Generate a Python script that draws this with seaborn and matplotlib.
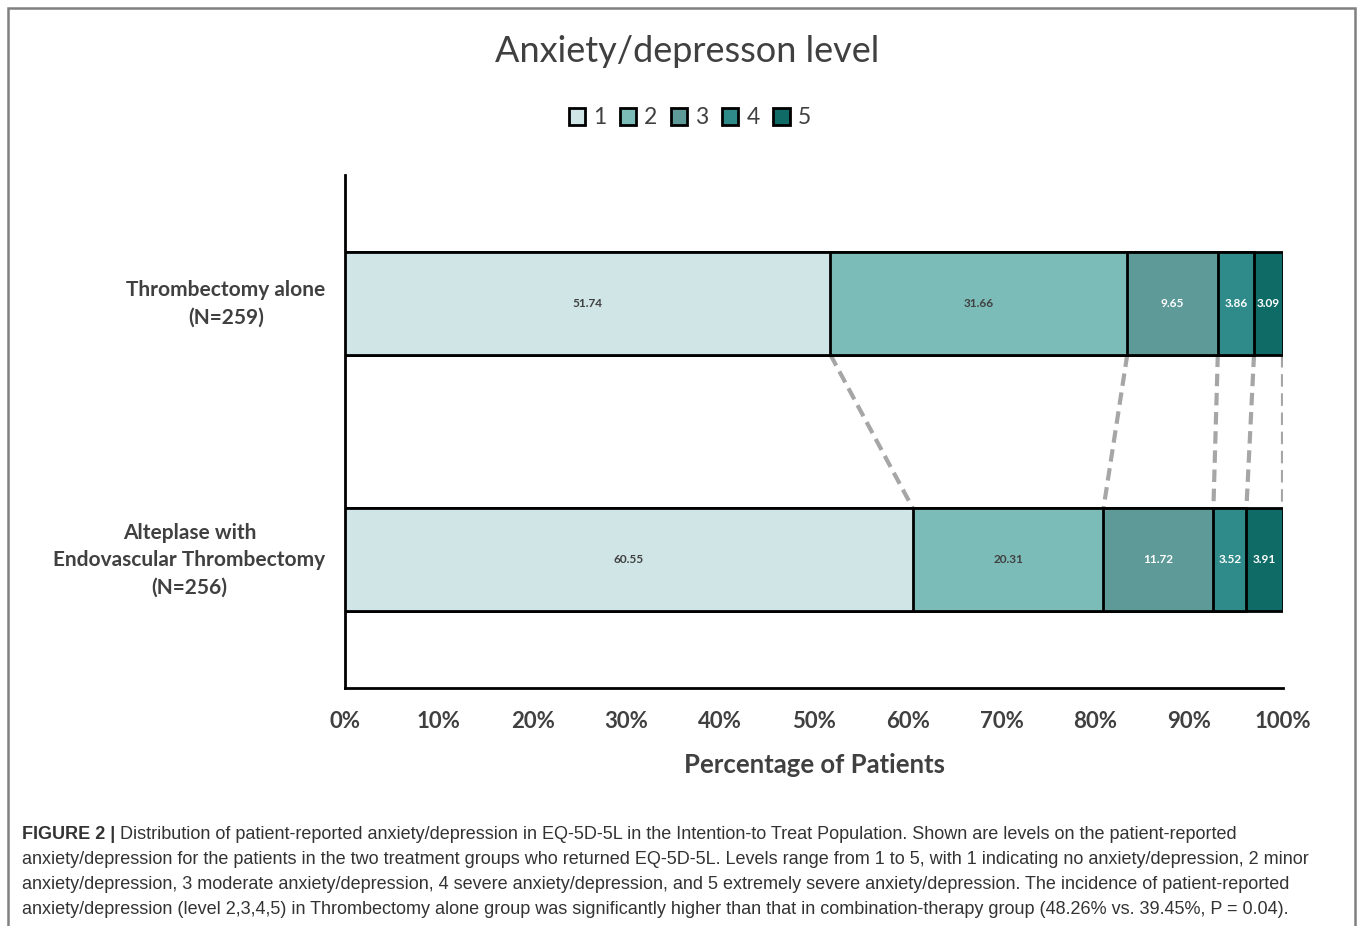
"""Stacked bar chart of patient-reported anxiety/depression levels (EQ-5D-5L)."""

from __future__ import annotations

import matplotlib

matplotlib.use("Agg")

import matplotlib.pyplot as plt
from matplotlib.patches import Patch, Rectangle
from matplotlib.transforms import ScaledTranslation
import pandas as pd
import seaborn as sns

FIG_W_PX = 1358
FIG_H_PX = 926
DPI = 100

GROUPS = [
    "Thrombectomy alone\n(N=259)",
    "Alteplase with\nEndovascular Thrombectomy\n(N=256)",
]
LEVELS = ["1", "2", "3", "4", "5"]
THROMBECTOMY_ALONE = [51.74, 31.66, 9.65, 3.86, 3.09]
ALTEPLASE_WITH_EVT = [60.55, 20.31, 11.72, 3.52, 3.91]
X_TICKS = [0, 10, 20, 30, 40, 50, 60, 70, 80, 90, 100]

LEVEL_COLORS = ["#cfe5e6", "#7bbcb9", "#5e9a98", "#2f8b89", "#0e6b65"]
LABEL_COLORS = ["#404040", "#404040", "white", "white", "white"]
TEXT_GREY = "#404040"
CAPTION_GREY = "#333333"

CAPTION_LINES = [
    "Distribution of patient-reported anxiety/depression in EQ-5D-5L in the "
    "Intention-to Treat Population. Shown are levels on the patient-reported",
    "anxiety/depression for the patients in the two treatment groups who returned "
    "EQ-5D-5L. Levels range from 1 to 5, with 1 indicating no anxiety/depression, 2 minor",
    "anxiety/depression, 3 moderate anxiety/depression, 4 severe anxiety/depression, "
    "and 5 extremely severe anxiety/depression. The incidence of patient-reported",
    "anxiety/depression (level 2,3,4,5) in Thrombectomy alone group was significantly "
    "higher than that in combination-therapy group (48.26% vs. 39.45%, P = 0.04).",
]


def px_x(value: float) -> float:
    return value / FIG_W_PX


def px_y(value: float) -> float:
    return 1 - value / FIG_H_PX


def build_dataframe() -> pd.DataFrame:
    """Long table with cumulative percentages per group."""
    rows = []
    for group, values in zip(GROUPS, [THROMBECTOMY_ALONE, ALTEPLASE_WITH_EVT]):
        total = 0.0
        for level, value in zip(LEVELS, values):
            start = total
            total += value
            rows.append(
                {
                    "group": group,
                    "level": level,
                    "value": value,
                    "start": start,
                    "cumulative": min(total, 100.0),
                }
            )
    return pd.DataFrame(rows)


def plot_bars(axes: plt.Axes, data: pd.DataFrame) -> None:
    """Draw stacked bars by overlaying cumulative totals, widest first."""
    for level, color in reversed(list(zip(LEVELS, LEVEL_COLORS))):
        subset = data[data["level"] == level]
        sns.barplot(
            data=subset,
            x="cumulative",
            y="group",
            order=GROUPS,
            orient="h",
            color=color,
            width=0.4,
            edgecolor="black",
            linewidth=2,
            saturation=1,
            ax=axes,
            zorder=3,
        )

    for _, row in data.iterrows():
        level_idx = LEVELS.index(row["level"])
        axes.text(
            row["start"] + row["value"] / 2,
            GROUPS.index(row["group"]),
            f"{row['value']:.2f}",
            ha="center",
            va="center",
            fontsize=8.5,
            fontweight="bold",
            color=LABEL_COLORS[level_idx],
            zorder=5,
        )


def plot_connectors(axes: plt.Axes, data: pd.DataFrame) -> None:
    """Dashed lines joining matching level boundaries of both bars."""
    top = data[data["group"] == GROUPS[0]]["cumulative"].tolist()
    bottom = data[data["group"] == GROUPS[1]]["cumulative"].tolist()
    for x_top, x_bottom in zip(top, bottom):
        axes.plot(
            [x_top, x_bottom],
            [0.2, 0.8],
            color="#a6a6a6",
            linewidth=3,
            linestyle=(0, (3, 1.6)),
            zorder=1,
        )


def style_axes(figure: plt.Figure, axes: plt.Axes) -> None:
    axes.set_xlim(0, 100)
    axes.set_ylim(1.5, -0.5)
    axes.set_xticks(X_TICKS)
    axes.set_xticklabels([f"{tick}%" for tick in X_TICKS])
    axes.set_ylabel("")
    axes.set_xlabel(
        "Percentage of Patients",
        fontsize=18.5,
        fontweight="bold",
        color=TEXT_GREY,
        labelpad=15,
    )
    for side in ("top", "right"):
        axes.spines[side].set_visible(False)
    for side in ("left", "bottom"):
        axes.spines[side].set_color("black")
        axes.spines[side].set_linewidth(2)
    axes.tick_params(
        axis="x",
        direction="out",
        length=4.5,
        width=2,
        color="black",
        pad=12,
        labelsize=16,
        labelcolor=TEXT_GREY,
    )
    axes.tick_params(axis="y", length=0, pad=14, labelsize=15, labelcolor=TEXT_GREY)
    for label in axes.get_xticklabels():
        label.set_fontweight("bold")
    lift = ScaledTranslation(0, 5 / DPI, figure.dpi_scale_trans)
    for label in axes.get_yticklabels():
        label.set_fontweight("bold")
        label.set_multialignment("center")
        label.set_linespacing(1.45)
        label.set_transform(label.get_transform() + lift)
    axes.grid(False)


def add_legend(figure: plt.Figure) -> None:
    handles = [
        Patch(facecolor=color, edgecolor="black", linewidth=2, label=level)
        for level, color in zip(LEVELS, LEVEL_COLORS)
    ]
    figure.legend(
        handles=handles,
        loc="center",
        bbox_to_anchor=(px_x(690), px_y(118)),
        ncol=5,
        frameon=False,
        fontsize=16.5,
        handlelength=0.7,
        handleheight=0.7,
        handletextpad=0.35,
        columnspacing=0.6,
        labelcolor=TEXT_GREY,
    )


def add_caption(figure: plt.Figure) -> None:
    x_start = px_x(22)
    baselines = [839, 864, 889, 914]
    head = figure.text(
        x_start,
        px_y(baselines[0]),
        "FIGURE 2 |",
        fontsize=13,
        fontweight="bold",
        color=CAPTION_GREY,
        family="Liberation Sans",
        va="baseline",
    )
    figure.canvas.draw()
    head_box = head.get_window_extent()
    for idx, line in enumerate(CAPTION_LINES):
        x_pos = x_start
        if idx == 0:
            x_pos = (head_box.x1 + 5) / FIG_W_PX
        figure.text(
            x_pos,
            px_y(baselines[idx]),
            line,
            fontsize=13,
            color=CAPTION_GREY,
            family="Liberation Sans",
            va="baseline",
        )


def main() -> None:
    data = build_dataframe()

    sns.set_theme(style="white")
    plt.rcParams["font.family"] = ["Lato", "DejaVu Sans"]

    figure = plt.figure(figsize=(FIG_W_PX / DPI, FIG_H_PX / DPI), dpi=DPI)
    axes = figure.add_axes(
        [px_x(345), px_y(688), px_x(1283) - px_x(345), px_y(175) - px_y(688)]
    )

    plot_connectors(axes, data)
    plot_bars(axes, data)
    style_axes(figure, axes)

    figure.text(
        px_x(687),
        px_y(51),
        "Anxiety/depresson level",
        ha="center",
        va="center",
        fontsize=26,
        color=TEXT_GREY,
    )
    add_legend(figure)

    frame = Rectangle(
        (px_x(8), -0.1),
        px_x(1355) - px_x(8),
        1.1 - 8 / FIG_H_PX,
        transform=figure.transFigure,
        fill=False,
        edgecolor="#808080",
        linewidth=1.8,
        clip_on=False,
    )
    figure.add_artist(frame)

    add_caption(figure)

    figure.savefig("out.png", dpi=DPI)
    plt.close(figure)


if __name__ == "__main__":
    main()
